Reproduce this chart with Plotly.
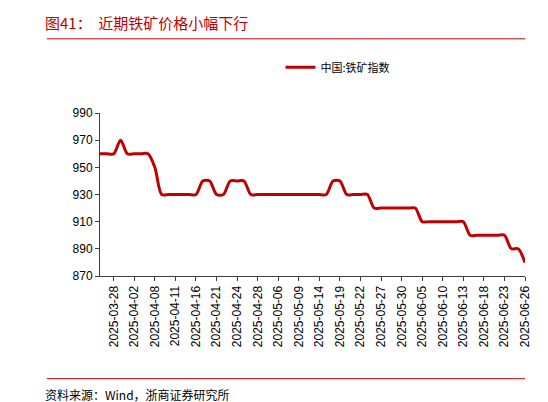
import plotly.graph_objects as go

# trading days (China), 2025-03-26 .. 2025-06-26
dates = ["2025-03-26", "2025-03-27", "2025-03-28", "2025-03-31", "2025-04-01", "2025-04-02",
         "2025-04-03", "2025-04-07", "2025-04-08", "2025-04-09", "2025-04-10", "2025-04-11",
         "2025-04-14", "2025-04-15", "2025-04-16", "2025-04-17", "2025-04-18", "2025-04-21",
         "2025-04-22", "2025-04-23", "2025-04-24", "2025-04-25", "2025-04-27", "2025-04-28",
         "2025-04-29", "2025-04-30", "2025-05-06", "2025-05-07", "2025-05-08", "2025-05-09",
         "2025-05-12", "2025-05-13", "2025-05-14", "2025-05-15", "2025-05-16", "2025-05-19",
         "2025-05-20", "2025-05-21", "2025-05-22", "2025-05-23", "2025-05-26", "2025-05-27",
         "2025-05-28", "2025-05-29", "2025-05-30", "2025-06-03", "2025-06-04", "2025-06-05",
         "2025-06-06", "2025-06-09", "2025-06-10", "2025-06-11", "2025-06-12", "2025-06-13",
         "2025-06-16", "2025-06-17", "2025-06-18", "2025-06-19", "2025-06-20", "2025-06-23",
         "2025-06-24", "2025-06-25", "2025-06-26"]
iron_ore = [960, 960, 960, 970, 960, 960, 960, 960, 950, 930, 930, 930,
            930, 930, 930, 940, 940, 930, 930, 940, 940, 940, 930, 930,
            930, 930, 930, 930, 930, 930, 930, 930, 930, 930, 940, 940,
            930, 930, 930, 930, 920, 920, 920, 920, 920, 920, 920, 910,
            910, 910, 910, 910, 910, 910, 900, 900, 900, 900, 900, 900,
            890, 890, 880]
tick_dates = dates[2::3]

red = "#c00000"
font = "Noto Sans CJK SC"

fig = go.Figure()
fig.add_trace(go.Scatter(x=dates, y=iron_ore, name="中国:铁矿指数", mode="lines",
                         line=dict(color=red, width=3, shape="spline", smoothing=0.8)))

fig.update_layout(
    width=548, height=402,
    margin=dict(l=92, r=31, t=105, b=134),
    plot_bgcolor="white", paper_bgcolor="white",
    font=dict(family=font, size=12, color="black"),
    showlegend=True,
    legend=dict(orientation="h", x=0.56, y=1.28, xanchor="center", yanchor="middle",
                font=dict(size=11)),
    xaxis=dict(type="category", tickmode="array", tickvals=tick_dates, ticktext=tick_dates,
               tickangle=-90, showline=True, linecolor="#404040", ticks="outside",
               ticklen=4, tickcolor="#404040", showgrid=False, range=[0, 62],
               tickfont=dict(family="Arial", size=12)),
    yaxis=dict(range=[870, 990], tick0=870, dtick=20, showline=True, linecolor="#404040",
               ticks="outside", ticklen=4, tickcolor="#404040", showgrid=False,
               tickfont=dict(family="Arial", size=12)),
    shapes=[
        dict(type="line", xref="paper", yref="paper", x0=-0.125, x1=1.0, y0=1.455, y1=1.455,
             line=dict(color=red, width=1)),
        dict(type="line", xref="paper", yref="paper", x0=-0.125, x1=1.0, y0=-0.63, y1=-0.63,
             line=dict(color=red, width=1)),
    ],
    annotations=[
        dict(text="图41：  近期铁矿价格小幅下行", xref="paper", yref="paper",
             x=-0.135, y=1.48, xanchor="left", yanchor="bottom", showarrow=False,
             font=dict(size=15, color=red, family=font)),
        dict(text="资料来源：Wind，浙商证券研究所", xref="paper", yref="paper",
             x=-0.135, y=-0.66, xanchor="left", yanchor="top", showarrow=False,
             font=dict(size=12, color="black", family=font)),
    ],
)

fig.write_html("out.html")
